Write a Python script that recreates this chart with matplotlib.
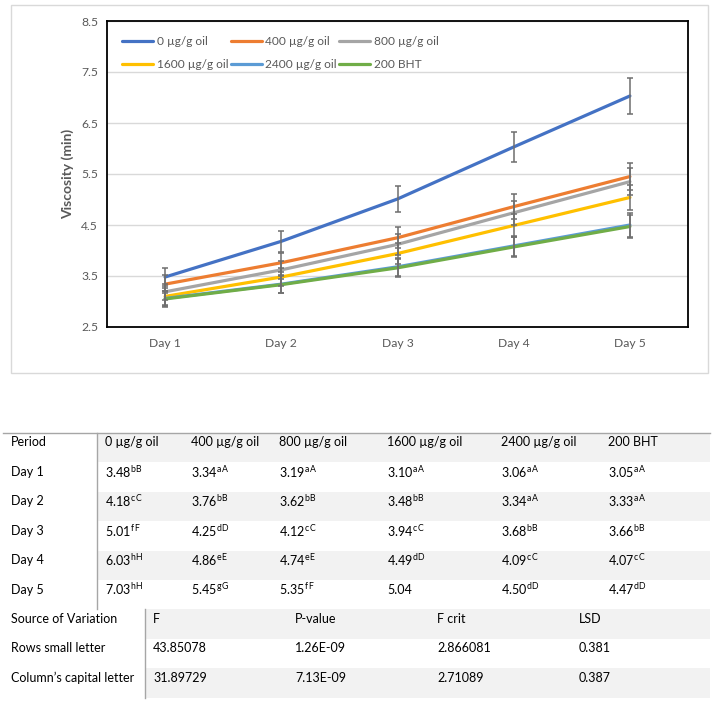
import matplotlib.pyplot as plt
from matplotlib.patches import Rectangle

plt.rcParams['font.family'] = ['Lato', 'DejaVu Sans']
plt.rcParams['mathtext.fontset'] = 'custom'
plt.rcParams['mathtext.rm'] = 'Lato'
plt.rcParams['mathtext.it'] = 'Lato:italic'
plt.rcParams['mathtext.bf'] = 'Lato:bold'

# donnees du graphique
days = ["Day 1", "Day 2", "Day 3", "Day 4", "Day 5"]
series_names = ["0 µg/g oil", "400 µg/g oil", "800 µg/g oil",
                "1600 µg/g oil", "2400 µg/g oil", "200 BHT"]
v0 = [3.48, 4.18, 5.01, 6.03, 7.03]
v400 = [3.34, 3.76, 4.25, 4.86, 5.45]
v800 = [3.19, 3.62, 4.12, 4.74, 5.35]
v1600 = [3.10, 3.48, 3.94, 4.49, 5.04]
v2400 = [3.06, 3.34, 3.68, 4.09, 4.50]
vbht = [3.05, 3.33, 3.66, 4.07, 4.47]

# barres d'erreur
e0 = [0.17, 0.21, 0.25, 0.30, 0.35]
e400 = [0.17, 0.19, 0.21, 0.24, 0.27]
e800 = [0.16, 0.18, 0.21, 0.24, 0.27]
e1600 = [0.16, 0.17, 0.20, 0.22, 0.25]
e2400 = [0.15, 0.17, 0.18, 0.20, 0.23]
ebht = [0.15, 0.17, 0.18, 0.20, 0.22]

colors = ["#4472C4", "#ED7D31", "#A5A5A5", "#FFC000", "#5B9BD5", "#70AD47"]

# lettres de significativite (tableau)
letters = [["bB", "aA", "aA", "aA", "aA", "aA"],
           ["cC", "bB", "bB", "bB", "aA", "aA"],
           ["fF", "dD", "cC", "cC", "bB", "bB"],
           ["hH", "eE", "eE", "dD", "cC", "cC"],
           ["hH", "gG", "fF", "", "dD", "dD"]]

anova_header = ["Source of Variation", "F", "P-value", "F crit", "LSD"]
anova_rows = ["Rows small letter", "Column’s capital letter"]
anova_vals = [["43.85078", "1.26E-09", "2.866081", "0.381"],
              ["31.89729", "7.13E-09", "2.71089", "0.387"]]

values = [v0, v400, v800, v1600, v2400, vbht]
errors = [e0, e400, e800, e1600, e2400, ebht]

W, H = 714, 701
fig = plt.figure(figsize=(W / 100, H / 100), dpi=100)

# axe "pixels" pour le cadre et le tableau
tax = fig.add_axes([0, 0, 1, 1], zorder=0)
tax.set_xlim(0, W)
tax.set_ylim(H, 0)
tax.axis('off')

tax.add_patch(Rectangle((11, 5), 697, 368, fill=False, ec="#d9d9d9", lw=1))

# graphique
ax = fig.add_axes([107 / W, 1 - 327 / H, 581 / W, 306 / H], zorder=1)
x = list(range(len(days)))
handles = []
for vals, col, name in zip(values, colors, series_names):
    l, = ax.plot(x, vals, color=col, lw=2.3, label=name, solid_capstyle='round', zorder=3)
    handles.append(l)
for vals, errs in zip(values, errors):
    ax.errorbar(x, vals, yerr=errs, fmt='none', ecolor="#6e6e6e",
                elinewidth=1.1, capsize=2.2, capthick=1.1, zorder=4)

ax.set_xlim(-0.5, 4.5)
ax.set_ylim(2.5, 8.5)
ax.set_yticks([2.5, 3.5, 4.5, 5.5, 6.5, 7.5, 8.5])
ax.set_xticks(x)
ax.set_xticklabels(days)
ax.yaxis.grid(True, color="#d9d9d9", lw=1)
ax.set_axisbelow(True)
for s in ax.spines.values():
    s.set_color("black")
    s.set_linewidth(1.3)
ax.tick_params(axis='both', length=0, colors="#595959", labelsize=8.7)
ax.tick_params(axis='y', pad=6.5)
ax.tick_params(axis='x', pad=8)
ax.set_ylabel("Viscosity (min)", fontsize=10, fontweight='bold', color="#595959")
ax.yaxis.set_label_coords(-0.056, 0.5)

# legende remplie ligne par ligne comme dans Excel
order = [0, 3, 1, 4, 2, 5]
ax.legend([handles[i] for i in order], [series_names[i] for i in order],
          loc='upper left', bbox_to_anchor=(15 / 581, 1 - 15 / 306), ncol=3,
          frameon=False, fontsize=8.6, handlelength=2.6, handletextpad=0.3,
          columnspacing=0.2, labelspacing=1.0, borderpad=0, borderaxespad=0,
          labelcolor="#595959")

# tableau
row_h = 29.4
top = 433
col_x = [11, 105, 191, 279, 387, 501, 608]
shade = "#f2f2f2"
line_c = "#a6a6a6"
fs = 9.0

tax.plot([3, 710], [top, top], color=line_c, lw=1)
for i in [0, 2, 4]:
    tax.add_patch(Rectangle((97, top + i * row_h), 710 - 97, row_h, color=shade, lw=0))
tax.plot([97, 97], [top, top + 6 * row_h], color=line_c, lw=1)

header = ["Period"] + series_names
for j, t in enumerate(header):
    tax.text(col_x[j], top + 9.5, t, fontsize=fs, va='center', ha='left', color="#000000")

for i, d in enumerate(days):
    yy = top + (i + 1) * row_h + 9.5
    tax.text(col_x[0], yy, d, fontsize=fs, va='center', ha='left')
    for j in range(len(series_names)):
        val = "%.2f" % values[j][i]
        sup = letters[i][j]
        if sup:
            val = val + r"$^{\,\mathrm{%s}}$" % sup
        tax.text(col_x[j + 1], yy, val, fontsize=fs, va='center', ha='left')

# tableau ANOVA
top2 = top + 6 * row_h
col2_x = [11, 153, 295, 437, 579]
for i in [0, 2]:
    tax.add_patch(Rectangle((145, top2 + i * row_h), 710 - 145, row_h, color=shade, lw=0))
tax.plot([145, 145], [top2, top2 + 3 * row_h], color=line_c, lw=1)
for j, t in enumerate(anova_header):
    tax.text(col2_x[j], top2 + 9.5, t, fontsize=fs, va='center', ha='left')
for i, r in enumerate(anova_rows):
    yy = top2 + (i + 1) * row_h + 9.5
    tax.text(col2_x[0], yy, r, fontsize=fs, va='center', ha='left')
    for j, v in enumerate(anova_vals[i]):
        tax.text(col2_x[j + 1], yy, v, fontsize=fs, va='center', ha='left')

fig.savefig("out.png", dpi=100)
